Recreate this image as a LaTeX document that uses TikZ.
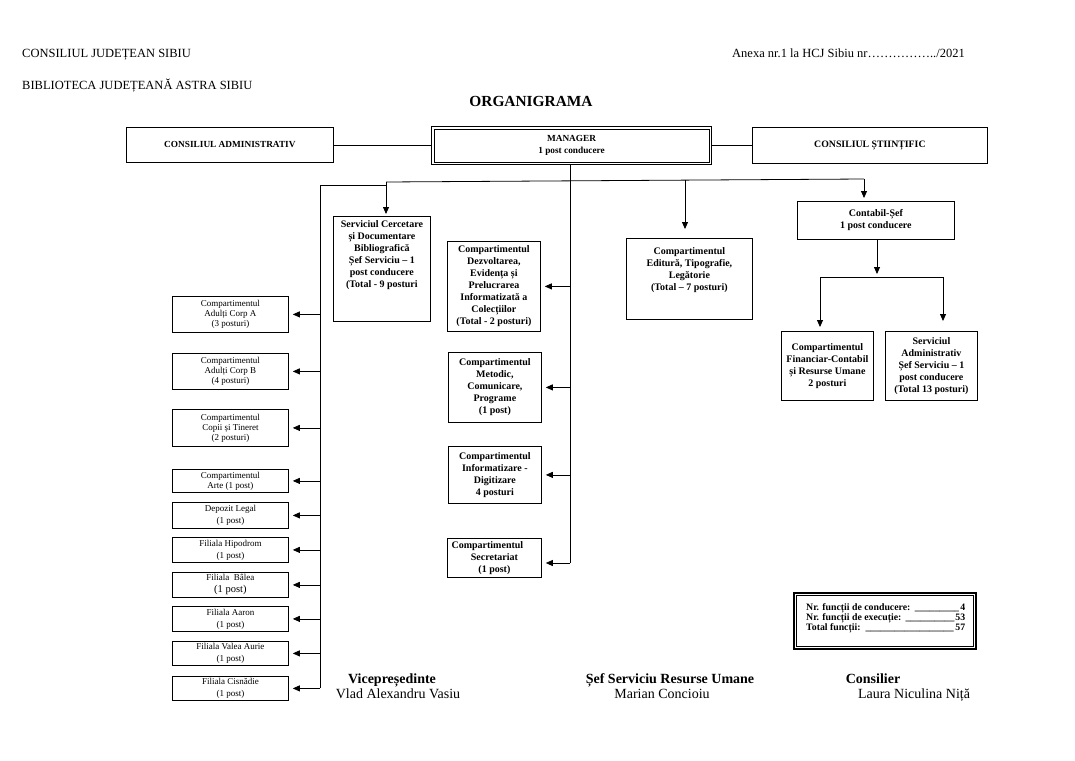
\documentclass[tikz,border=0pt]{standalone}
\usepackage{fontspec}
\setmainfont{Liberation Serif}
\usetikzlibrary{arrows.meta}
\newcommand\fHead{\fontsize{12.5}{14}\selectfont}
\newcommand\fTitle{\bfseries\fontsize{15.4}{17}\selectfont}
\newcommand\fTop{\bfseries\fontsize{9.3}{12.5}\selectfont}
\newcommand\fMid{\bfseries\fontsize{10}{12}\selectfont}
\newcommand\fLeft{\fontsize{9}{10}\selectfont}
\newcommand\fSum{\bfseries\fontsize{9.8}{10}\selectfont}
\newcommand\fSigB{\bfseries\fontsize{14}{16}\selectfont}
\newcommand\fSigR{\fontsize{14}{16}\selectfont}
\newcommand\sline[2]{\makebox[159pt][l]{#1\cleaders\hbox{\textunderscore}\hfill #2}}
\begin{document}
\begin{tikzpicture}[x=1pt,y=-1pt,
  every node/.style={inner sep=0pt},
  bx/.style={draw, line width=0.8pt, anchor=north west, inner sep=0pt, align=center},
  lbox/.style={bx, minimum width=116pt, font=\fLeft},
  mbox/.style={bx, font=\fMid},
  ln/.style={line width=0.8pt},
  arr/.style={line width=0.8pt, -{Triangle[length=7pt,width=6pt]}, shorten >=3pt},
  harr/.style={arr, shorten >=4pt}]
\useasboundingbox (0,0) rectangle (1075,760);
% header
\node[anchor=base west, font=\fHead] (h1) at (22,58) {CONSILIUL JUDEȚEAN SIBIU};
\node[anchor=base west, font=\fHead] (h2) at (732,58) {Anexa nr.1 la HCJ Sibiu nr……………../2021};
\node[anchor=base west, font=\fHead] (h3) at (22,89) {BIBLIOTECA JUDEȚEANĂ ASTRA SIBIU};
\node[anchor=base, font=\fTitle] (title) at (531,106) {ORGANIGRAMA};
% top row
\node[bx, minimum width=207pt, minimum height=35pt, font=\fTop] (ca) at (126,127) {CONSILIUL ADMINISTRATIV};
\node[bx, line width=1.1pt, minimum width=280pt, minimum height=38pt, font=\fTop] (mgr) at (431,126) {MANAGER\\1 post conducere};
\draw[line width=0.6pt] ([shift={(3pt,-3pt)}]mgr.north west) rectangle ([shift={(-3pt,3pt)}]mgr.south east);
\node[bx, minimum width=235pt, minimum height=36pt, font=\bfseries\fontsize{9.8}{12}\selectfont] (cs) at (752,127) {CONSILIUL ȘTIINȚIFIC};
\draw[ln] (ca.east) -- (ca.east -| mgr.west);
\draw[ln] (mgr.east) -- (mgr.east -| cs.west);
% middle boxes
\node[bx, font=\fMid] (cerc) at (333,216) {\parbox[c][105pt][t]{97pt}{\centering\vspace*{4pt}Serviciul Cercetare\\și Documentare\\Bibliografică\\Șef Serviciu – 1\\post conducere\\(Total - 9 posturi\par}};
\node[mbox, minimum width=93pt, minimum height=90pt] (dezv) at (447,241) {Compartimentul\\Dezvoltarea,\\Evidența și\\Prelucrarea\\Informatizată a\\Colecțiilor\\(Total - 2 posturi)};
\node[mbox, minimum width=93pt, minimum height=70pt] (met) at (448,352) {Compartimentul\\Metodic,\\Comunicare,\\Programe\\(1 post)};
\node[mbox, minimum width=93pt, minimum height=57pt] (inf) at (448,446) {Compartimentul\\Informatizare -\\Digitizare\\4 posturi};
\node[mbox, minimum width=94pt, minimum height=39pt] (sec) at (447,538) {Compartimentul\hspace*{14pt}\mbox{}\\Secretariat\\(1 post)};
\node[bx, font=\fMid] (edit) at (626,238) {\parbox[c][81pt][t]{126pt}{\centering\vspace*{9pt}Compartimentul\\Editură, Tipografie,\\Legătorie\\(Total – 7 posturi)\par}};
\node[mbox, minimum width=157pt, minimum height=38pt] (cont) at (797,201) {Contabil-Șef\\1 post conducere};
\node[mbox, minimum width=92pt, minimum height=69pt] (fin) at (781,331) {Compartimentul\\Financiar-Contabil\\și Resurse Umane\\2 posturi};
\node[mbox, minimum width=92pt, minimum height=69pt] (adm) at (885,331) {Serviciul\\Administrativ\\Șef Serviciu – 1\\post conducere\\(Total 13 posturi)};
% left boxes
\node[lbox, minimum height=36pt] (la) at (172,296) {Compartimentul\\Adulți Corp A\\(3 posturi)};
\node[lbox, minimum height=36pt] (lb) at (172,353) {Compartimentul\\Adulți Corp B\\(4 posturi)};
\node[lbox, minimum height=37pt] (lc) at (172,409) {Compartimentul\\Copii și Tineret\\(2 posturi)};
\node[lbox, minimum height=23pt] (ld) at (172,469) {Compartimentul\\Arte (1 post)};
\node[lbox, minimum height=26pt, font=\fontsize{9}{12}\selectfont] (le) at (172,502) {Depozit Legal\\(1 post)};
\node[lbox, minimum height=25pt, font=\fontsize{9}{12}\selectfont] (lf) at (172,537) {Filiala Hipodrom\\(1 post)};
\node[lbox, minimum height=25pt, font=\fontsize{9}{12}\selectfont] (lg) at (172,572) {Filiala\ \ Bâlea\\{\fontsize{10.5}{12}\selectfont(1 post)}};
\node[lbox, minimum height=25pt, font=\fontsize{9}{12}\selectfont] (lh) at (172,606) {Filiala Aaron\\(1 post)};
\node[lbox, minimum height=24pt, font=\fontsize{9}{12}\selectfont] (li) at (172,641) {Filiala Valea Aurie\\(1 post)};
\node[lbox, minimum height=24pt, font=\fontsize{9}{12}\selectfont] (lj) at (172,676) {Filiala Cisnădie\\(1 post)};
% coordinates
\coordinate (Lx) at (320,0);
\coordinate (Mx) at (570,0);
\coordinate (ltop) at (320,185);
\coordinate (lk) at (386,185);
\coordinate (rj) at (386,182);
\coordinate (rend) at (864,179);
\coordinate (ej) at (685,180.1);
\coordinate (sa) at (570,563);
\coordinate (cb) at (877,274);
\coordinate (hl) at (820,277);
\coordinate (hr) at (943,277);
% distribution lines
\draw[ln] (ltop) -- (lk);
\draw[ln] (rj) -- (rend);
\draw[arr, shorten >=2pt] (rj) -- (rj |- cerc.north);
\draw[arr, shorten >=9pt] (ej) -- (ej |- edit.north);
\draw[arr] (rend) -- (rend |- cont.north);
\draw[ln] (ltop) -- (lj.east -| Lx);
\foreach \n in {la,lb,lc,ld,le,lf,lg,lh,li,lj}
  \draw[harr] (\n.east -| Lx) -- (\n.east);
\draw[ln] (mgr.south -| Mx) -- (sa);
\draw[harr] (Mx |- dezv.east) -- (dezv.east);
\draw[harr] (Mx |- met.east) -- (met.east);
\draw[harr] (Mx |- inf.east) -- (inf.east);
\draw[harr] (sa) -- (sa -| sec.east);
% contabil branch
\draw[arr, shorten >=0pt] (cont.south -| cb) -- (cb);
\draw[ln] (hl) -- (hr);
\draw[arr, shorten >=4pt] (hl) -- (hl |- fin.north);
\draw[arr, shorten >=10pt] (hr) -- (hr |- adm.north);
% summary
\node[draw, line width=1.6pt, minimum width=182pt, minimum height=56pt, anchor=north west] (sumbox) at (793,592) {};
\draw[line width=0.6pt] ([shift={(3.5pt,-3.5pt)}]sumbox.north west) rectangle ([shift={(-3.5pt,3.5pt)}]sumbox.south east);
\node[anchor=north west, align=left, font=\fSum] (sum) at (806,603) {\sline{Nr. funcții de conducere: }{4}\\\sline{Nr. funcții de execuție: }{53}\\\sline{Total funcții: }{57}};
% signatures
\node[anchor=base, font=\fSigB] (s1a) at (392,683) {Vicepreședinte};
\node[anchor=base, font=\fSigR] (s1b) at (398,698) {Vlad Alexandru Vasiu};
\node[anchor=base, font=\fSigB] (s2a) at (670,683) {Șef Serviciu Resurse Umane};
\node[anchor=base, font=\fSigR] (s2b) at (662,698) {Marian Concioiu};
\node[anchor=base, font=\fSigB] (s3a) at (873,683) {Consilier};
\node[anchor=base, font=\fSigR] (s3b) at (914,698) {Laura Niculina Niță};
\end{tikzpicture}
\end{document}
